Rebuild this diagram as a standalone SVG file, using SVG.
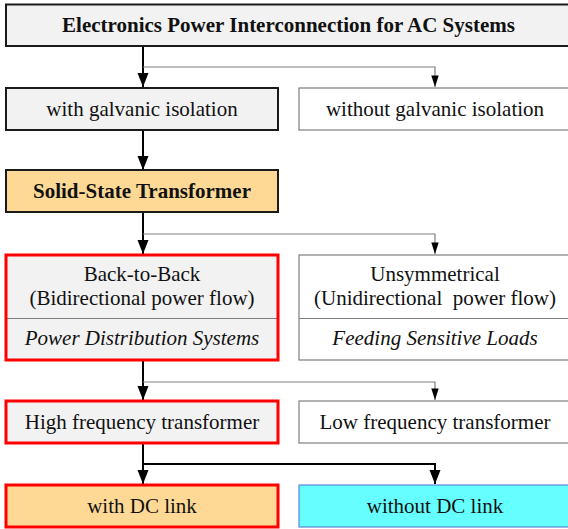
<svg xmlns="http://www.w3.org/2000/svg" width="568" height="529" viewBox="0 0 568 529">
<defs>
<marker id="big" markerUnits="userSpaceOnUse" markerWidth="12" markerHeight="16" refX="6" refY="15" viewBox="0 0 12 16">
<path d="M0.5,1 L11.5,1 L6,15 Z" fill="#000"/>
</marker>
<marker id="small" markerUnits="userSpaceOnUse" markerWidth="9" markerHeight="13" refX="4.5" refY="12" viewBox="0 0 9 13">
<path d="M0.8,0.5 L8.2,0.5 L4.5,12 Z" fill="#000"/>
</marker>
</defs>
<style>
text{font-family:"Liberation Serif","Times New Roman",serif;font-size:21px;fill:#111;text-anchor:middle}
.b{font-weight:bold;font-size:21px}
.i{font-style:italic}
.dark{stroke:#1a1a1a;stroke-width:2}
.thin{fill:#fff;stroke:#7f7f7f;stroke-width:1.2}
.red{stroke:#ff0000;stroke-width:3}
.gray{fill:#f2f2f2}
.org{fill:#fed995}
.k{fill:none;stroke:#000;stroke-width:2}
.g{fill:none;stroke:#7f7f7f;stroke-width:1.2}
</style>
<g id="connectors">
<line class="k" x1="143" y1="46" x2="143" y2="87" marker-end="url(#big)"/>
<polyline class="g" points="143,67 435,67 435,87" marker-end="url(#small)"/>
<line class="k" x1="143" y1="130" x2="143" y2="170" marker-end="url(#big)"/>
<line class="k" x1="143" y1="212" x2="143" y2="254" marker-end="url(#big)"/>
<polyline class="g" points="143,234 435,234 435,254" marker-end="url(#small)"/>
<line class="k" x1="143" y1="360" x2="143" y2="400" marker-end="url(#big)"/>
<polyline class="g" points="143,382 435,382 435,400" marker-end="url(#small)"/>
<line class="k" x1="143" y1="443" x2="143" y2="484" marker-end="url(#big)"/>
<polyline class="k" points="143,464 435,464 435,484" marker-end="url(#big)"/>
</g>
<g id="title">
<rect class="gray dark" x="6" y="4.5" width="565" height="41.5"/>
<text class="b" x="288.5" y="32">Electronics Power Interconnection for AC Systems</text>
</g>
<g id="with-galvanic">
<rect class="gray dark" x="6" y="88" width="272" height="42"/>
<text x="142" y="116">with galvanic isolation</text>
</g>
<g id="without-galvanic">
<rect class="thin" x="299" y="88" width="272" height="42"/>
<text x="435" y="116">without galvanic isolation</text>
</g>
<g id="sst">
<rect class="org dark" x="6" y="170" width="272" height="42"/>
<text class="b" x="142" y="198">Solid-State Transformer</text>
</g>
<g id="back-to-back">
<rect class="gray" x="6" y="255" width="272" height="105"/>
<line x1="6" y1="318.5" x2="278" y2="318.5" stroke="#7f7f7f" stroke-width="1.2"/>
<rect class="red" x="6" y="255" width="272" height="105" fill="none"/>
<text x="142" y="281">Back-to-Back</text>
<text x="142" y="305">(Bidirectional power flow)</text>
<text class="i" x="142" y="345">Power Distribution Systems</text>
</g>
<g id="unsymmetrical">
<rect class="thin" x="299" y="255" width="272" height="105"/>
<line x1="299" y1="318.5" x2="571" y2="318.5" stroke="#7f7f7f" stroke-width="1.2"/>
<text x="435" y="281">Unsymmetrical</text>
<text x="435" y="305" xml:space="preserve">(Unidirectional  power flow)</text>
<text class="i" x="435" y="345">Feeding Sensitive Loads</text>
</g>
<g id="hf">
<rect class="gray red" x="6" y="401" width="272" height="42"/>
<text x="142" y="429">High frequency transformer</text>
</g>
<g id="lf">
<rect class="thin" x="299" y="401" width="272" height="42"/>
<text x="435" y="429">Low frequency transformer</text>
</g>
<g id="with-dc">
<rect class="org red" x="6" y="485" width="272" height="42"/>
<text x="142" y="513">with DC link</text>
</g>
<g id="without-dc">
<rect x="299" y="485" width="272" height="42" fill="#66ffff" stroke="#5b86d6" stroke-width="1.2"/>
<text x="435" y="513">without DC link</text>
</g>
</svg>
